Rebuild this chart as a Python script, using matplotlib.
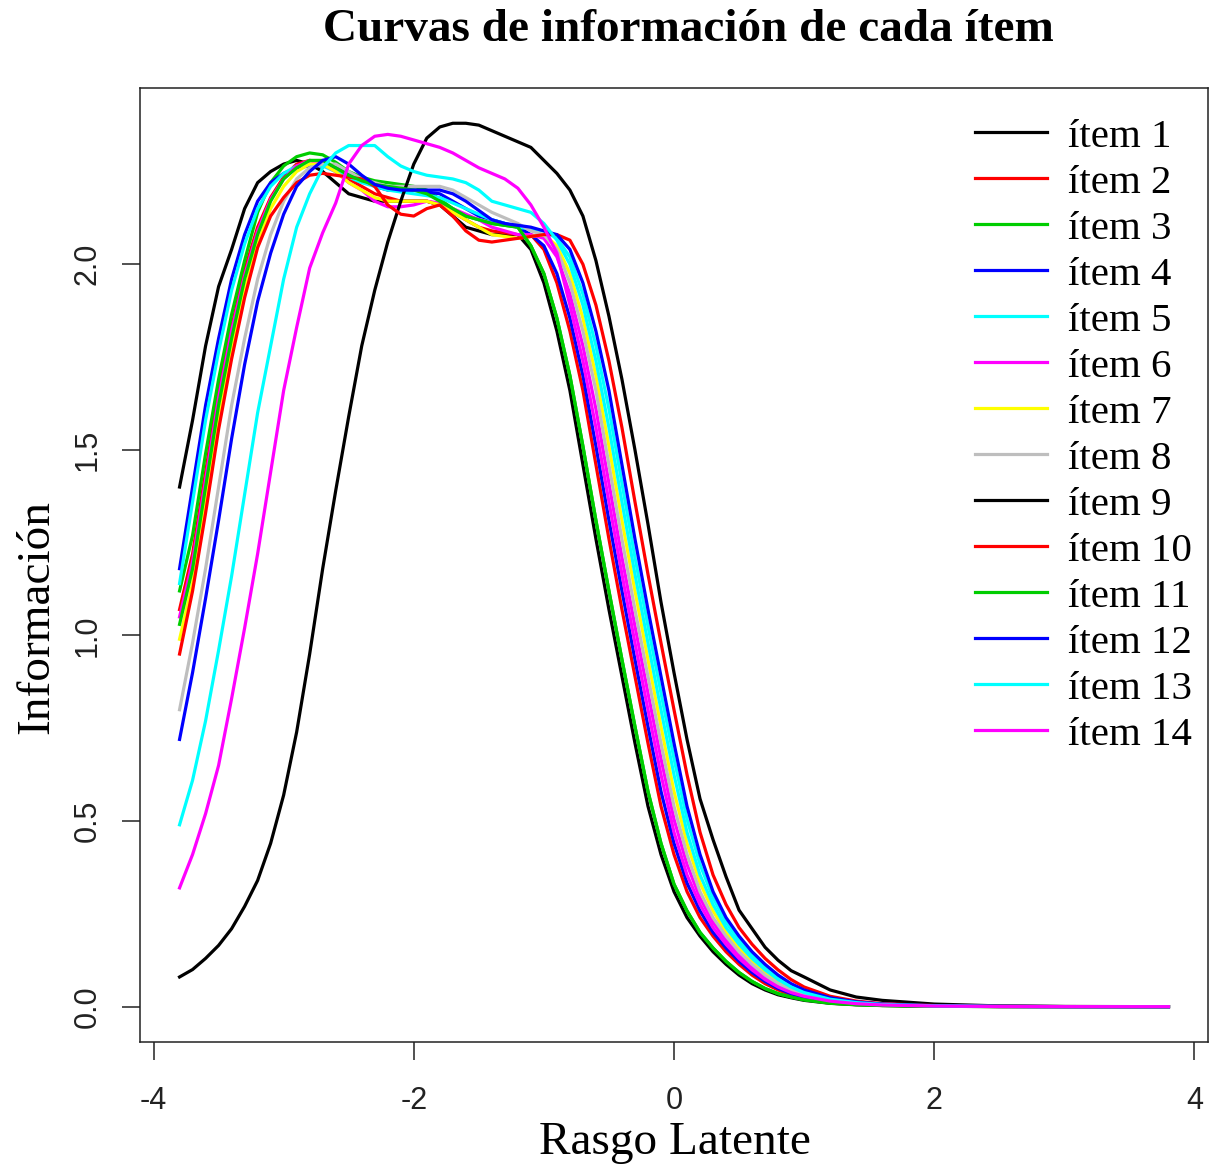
import numpy as np
import matplotlib.pyplot as plt

# rasgo latente (theta) donde se leyeron las curvas
theta = [-3.8, -3.7, -3.6, -3.5, -3.4, -3.3, -3.2, -3.1, -3.0, -2.9, -2.8, -2.7, -2.6, -2.5,
         -2.4, -2.3, -2.2, -2.1, -2.0, -1.9, -1.8, -1.7, -1.6, -1.5, -1.4, -1.3, -1.2,
         -1.1, -1.0, -0.9, -0.8, -0.7, -0.6, -0.5, -0.4, -0.3, -0.2, -0.1, 0.0, 0.1, 0.2,
         0.3, 0.4, 0.5, 0.6, 0.7, 0.8, 0.9, 1.0, 1.2, 1.4, 1.6, 2.0, 2.5, 3.0, 3.8]

info_item1 = [1.40, 1.58, 1.78, 1.94, 2.04, 2.15, 2.22, 2.25, 2.27, 2.28, 2.27, 2.25, 2.22, 2.19,
              2.18, 2.17, 2.17, 2.17, 2.17, 2.17, 2.16, 2.13, 2.10, 2.09, 2.08, 2.08, 2.08,
              2.04, 1.95, 1.82, 1.66, 1.46, 1.26, 1.07, 0.89, 0.71, 0.54, 0.41, 0.31, 0.24, 0.19,
              0.148, 0.114, 0.085, 0.062, 0.045, 0.032, 0.024, 0.017,
              0.009, 0.005, 0.003, 0.001, 0.0003, 0.0001, 0.0]
info_item2 = [1.07, 1.22, 1.44, 1.66, 1.83, 1.985, 2.10, 2.18, 2.235, 2.27, 2.28, 2.27, 2.25, 2.23,
              2.21, 2.19, 2.18, 2.17, 2.17, 2.17, 2.16, 2.14, 2.12, 2.10, 2.09, 2.085, 2.08,
              2.08, 2.04, 1.95, 1.82, 1.66, 1.46, 1.26, 1.07, 0.89, 0.71, 0.54, 0.41, 0.31, 0.24,
              0.19, 0.148, 0.114, 0.085, 0.062, 0.045, 0.032, 0.024,
              0.013, 0.007, 0.004, 0.0014, 0.0004, 0.0001, 0.0]
info_item3 = [1.12, 1.27, 1.49, 1.69, 1.865, 2.01, 2.14, 2.22, 2.265, 2.29, 2.30, 2.295, 2.275, 2.25,
              2.235, 2.225, 2.22, 2.215, 2.21, 2.20, 2.175, 2.15, 2.13, 2.12, 2.11, 2.105, 2.10,
              2.05, 1.975, 1.855, 1.70, 1.51, 1.31, 1.12, 0.935, 0.755, 0.58, 0.44, 0.33, 0.258, 0.20,
              0.158, 0.122, 0.092, 0.068, 0.049, 0.035, 0.026, 0.0185,
              0.0095, 0.0055, 0.0032, 0.0011, 0.0003, 0.0001, 0.0]
info_item4 = [1.18, 1.40, 1.62, 1.80, 1.96, 2.08, 2.17, 2.22, 2.245, 2.26, 2.265, 2.265, 2.26, 2.245,
              2.23, 2.21, 2.20, 2.20, 2.20, 2.195, 2.19, 2.17, 2.15, 2.13, 2.12, 2.11, 2.10,
              2.08, 2.05, 1.975, 1.855, 1.70, 1.51, 1.31, 1.12, 0.935, 0.755, 0.58, 0.44, 0.333, 0.258,
              0.20, 0.158, 0.122, 0.092, 0.068, 0.049, 0.035, 0.026,
              0.014, 0.0075, 0.0042, 0.0015, 0.0005, 0.0001, 0.0]
info_item5 = [1.14, 1.36, 1.58, 1.765, 1.93, 2.055, 2.15, 2.21, 2.245, 2.265, 2.27, 2.265, 2.25, 2.235,
              2.22, 2.21, 2.20, 2.195, 2.19, 2.185, 2.18, 2.165, 2.15, 2.135, 2.12, 2.11, 2.10,
              2.095, 2.09, 2.07, 2.02, 1.92, 1.78, 1.61, 1.41, 1.21, 1.025, 0.845, 0.668, 0.505, 0.383,
              0.293, 0.227, 0.179, 0.139, 0.107, 0.079, 0.058, 0.042,
              0.022, 0.012, 0.0065, 0.0024, 0.0007, 0.0002, 0.0]
info_item6 = [1.05, 1.20, 1.42, 1.64, 1.82, 1.97, 2.09, 2.175, 2.23, 2.265, 2.28, 2.27, 2.25, 2.22,
              2.20, 2.17, 2.155, 2.155, 2.16, 2.17, 2.165, 2.15, 2.135, 2.12, 2.10, 2.09, 2.08,
              2.08, 2.07, 2.02, 1.92, 1.78, 1.61, 1.41, 1.21, 1.025, 0.845, 0.668, 0.505, 0.383, 0.293,
              0.227, 0.179, 0.139, 0.107, 0.079, 0.058, 0.042, 0.030,
              0.016, 0.0085, 0.0048, 0.0018, 0.0005, 0.0001, 0.0]
info_item7 = [0.99, 1.14, 1.36, 1.58, 1.765, 1.93, 2.055, 2.15, 2.21, 2.25, 2.27, 2.27, 2.25, 2.22,
              2.20, 2.18, 2.17, 2.17, 2.17, 2.17, 2.16, 2.14, 2.12, 2.10, 2.08, 2.075, 2.07,
              2.075, 2.08, 2.05, 1.975, 1.855, 1.70, 1.51, 1.31, 1.12, 0.935, 0.755, 0.58, 0.44, 0.333,
              0.258, 0.20, 0.158, 0.122, 0.092, 0.068, 0.049, 0.035,
              0.019, 0.010, 0.0055, 0.002, 0.0007, 0.0002, 0.0]
info_item8 = [0.80, 0.98, 1.18, 1.40, 1.62, 1.80, 1.96, 2.08, 2.17, 2.23, 2.26, 2.27, 2.27, 2.25,
              2.23, 2.22, 2.21, 2.21, 2.21, 2.21, 2.21, 2.20, 2.18, 2.16, 2.14, 2.125, 2.11,
              2.09, 2.08, 2.04, 1.95, 1.82, 1.66, 1.46, 1.26, 1.07, 0.89, 0.71, 0.54, 0.41, 0.31,
              0.24, 0.19, 0.148, 0.114, 0.085, 0.062, 0.045, 0.032,
              0.017, 0.009, 0.005, 0.002, 0.0006, 0.0002, 0.0]
info_item9 = [0.08, 0.10, 0.13, 0.165, 0.21, 0.27, 0.34, 0.44, 0.57, 0.74, 0.95, 1.18, 1.39, 1.59,
              1.78, 1.93, 2.06, 2.17, 2.27, 2.34, 2.37, 2.38, 2.38, 2.375, 2.36, 2.345, 2.33,
              2.315, 2.28, 2.245, 2.20, 2.13, 2.01, 1.86, 1.69, 1.50, 1.30, 1.09, 0.90, 0.72, 0.56,
              0.45, 0.35, 0.26, 0.21, 0.16, 0.125, 0.097, 0.08,
              0.045, 0.026, 0.017, 0.007, 0.002, 0.0005, 0.0]
info_item10 = [0.95, 1.12, 1.33, 1.555, 1.745, 1.91, 2.045, 2.13, 2.18, 2.22, 2.24, 2.245, 2.24, 2.235,
               2.23, 2.21, 2.16, 2.135, 2.13, 2.15, 2.16, 2.13, 2.09, 2.065, 2.06, 2.065, 2.07,
               2.075, 2.08, 2.08, 2.065, 2.0, 1.89, 1.74, 1.56, 1.36, 1.165, 0.98, 0.80, 0.625, 0.47,
               0.355, 0.275, 0.213, 0.168, 0.13, 0.099, 0.073, 0.053,
               0.028, 0.015, 0.008, 0.003, 0.001, 0.0003, 0.0]
info_item11 = [1.03, 1.18, 1.40, 1.62, 1.80, 1.96, 2.08, 2.17, 2.23, 2.26, 2.28, 2.28, 2.26, 2.24,
               2.225, 2.215, 2.21, 2.205, 2.20, 2.19, 2.17, 2.15, 2.13, 2.12, 2.11, 2.105, 2.10,
               2.05, 1.975, 1.855, 1.70, 1.51, 1.31, 1.12, 0.935, 0.755, 0.58, 0.44, 0.33, 0.258, 0.20,
               0.158, 0.122, 0.092, 0.068, 0.049, 0.035, 0.026, 0.0185,
               0.0095, 0.0055, 0.0032, 0.0011, 0.0003, 0.0001, 0.0]
info_item12 = [0.72, 0.90, 1.10, 1.31, 1.53, 1.73, 1.90, 2.03, 2.135, 2.21, 2.25, 2.28, 2.29, 2.27,
               2.24, 2.215, 2.205, 2.20, 2.20, 2.20, 2.20, 2.19, 2.17, 2.145, 2.12, 2.11, 2.105,
               2.10, 2.09, 2.08, 2.04, 1.95, 1.82, 1.66, 1.46, 1.26, 1.07, 0.89, 0.71, 0.54, 0.41,
               0.31, 0.24, 0.19, 0.148, 0.114, 0.085, 0.062, 0.045,
               0.024, 0.013, 0.007, 0.0027, 0.0008, 0.0002, 0.0]
info_item13 = [0.49, 0.61, 0.77, 0.96, 1.16, 1.38, 1.60, 1.78, 1.96, 2.10, 2.19, 2.26, 2.30, 2.32,
               2.32, 2.32, 2.29, 2.265, 2.25, 2.24, 2.235, 2.23, 2.22, 2.20, 2.17, 2.16, 2.15,
               2.14, 2.11, 2.065, 2.0, 1.89, 1.74, 1.56, 1.36, 1.165, 0.98, 0.80, 0.625, 0.47, 0.355,
               0.275, 0.213, 0.168, 0.13, 0.099, 0.073, 0.053, 0.038,
               0.020, 0.011, 0.006, 0.0022, 0.0007, 0.0002, 0.0]
info_item14 = [0.32, 0.41, 0.52, 0.65, 0.83, 1.02, 1.22, 1.44, 1.66, 1.83, 1.99, 2.085, 2.165, 2.27,
               2.32, 2.345, 2.35, 2.345, 2.335, 2.325, 2.315, 2.30, 2.28, 2.26, 2.245, 2.23, 2.205,
               2.16, 2.10, 2.03, 1.89, 1.74, 1.56, 1.36, 1.165, 0.98, 0.80, 0.625, 0.47, 0.355, 0.275,
               0.213, 0.168, 0.13, 0.099, 0.073, 0.053, 0.038, 0.028,
               0.015, 0.008, 0.0045, 0.0017, 0.0005, 0.0001, 0.0]

curvas = [info_item1, info_item2, info_item3, info_item4, info_item5, info_item6, info_item7,
          info_item8, info_item9, info_item10, info_item11, info_item12, info_item13, info_item14]
etiquetas = ["ítem %d" % i for i in range(1, 15)]
# paleta por defecto de R (se repite)
colores = ["#000000", "#FF0000", "#00CD00", "#0000FF", "#00FFFF", "#FF00FF", "#FFFF00", "#BEBEBE",
           "#000000", "#FF0000", "#00CD00", "#0000FF", "#00FFFF", "#FF00FF"]

plt.rcParams['font.family'] = ['Liberation Serif', 'DejaVu Serif']

W, H = 1210, 1171
fig = plt.figure(figsize=(W / 100, H / 100), dpi=100)
ax = fig.add_axes([140 / W, 129 / H, 1068 / W, 954 / H])

for y, c, lab in zip(curvas, colores, etiquetas):
    ax.plot(theta, y, color=c, lw=2.3, label=lab, solid_joinstyle='round')

ax.set_xlim(-4.104, 4.104)
ax.set_ylim(-0.0952, 2.475)
ax.set_xticks([-4, -2, 0, 2, 4])
ax.set_xticklabels(['-4', '-2', '0', '2', '4'])
ax.set_yticks([0, 0.5, 1.0, 1.5, 2.0])
ax.set_yticklabels(['0.0', '0.5', '1.0', '1.5', '2.0'], rotation=90, va='center')
ax.tick_params(length=13, width=1.1, labelsize=22, color='#222222')
ax.tick_params(axis='x', pad=19)
ax.tick_params(axis='y', pad=14)
for lab in ax.get_xticklabels() + ax.get_yticklabels():
    lab.set_family('Liberation Sans')
    lab.set_color('#222222')
for sp in ax.spines.values():
    sp.set_linewidth(1.1)
    sp.set_color('#222222')

fig.text(688 / W, 1 - 30 / H, 'Curvas de información de cada ítem', ha='center', va='center',
         fontsize=34, fontweight='bold')
fig.text(675 / W, 1 - 1143 / H, 'Rasgo Latente', ha='center', va='center', fontsize=34)
fig.text(37 / W, 1 - 617 / H, 'Información', ha='center', va='center', fontsize=34, rotation=90)

ax.legend(loc='upper left', bbox_to_anchor=(975 / W, 1 - 118 / H), bbox_transform=fig.transFigure,
          frameon=False, fontsize=29.5, borderpad=0, borderaxespad=0, handlelength=1.76,
          handletextpad=0.5, labelspacing=0.203)

fig.savefig('out.png', dpi=100)
